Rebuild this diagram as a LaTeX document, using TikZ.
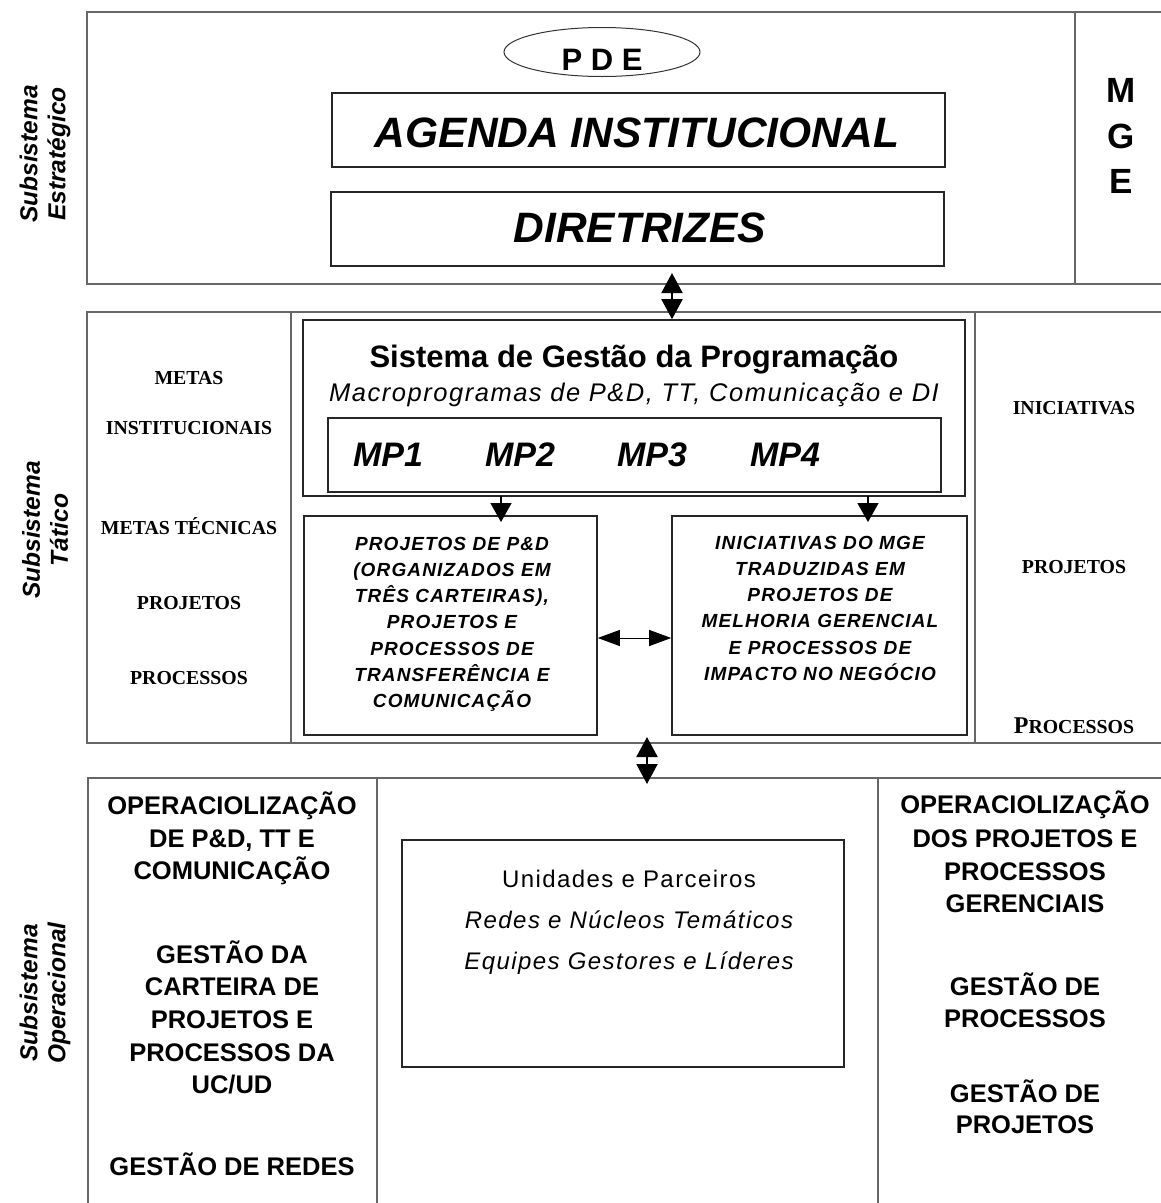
\documentclass[tikz,border=0pt]{standalone}
\usepackage{fontspec}
\setmainfont{Liberation Sans}
\newfontfamily\serifL{Liberation Serif}
\newfontfamily\spaced[LetterSpace=6]{Liberation Sans}
\usetikzlibrary{shapes.geometric,arrows.meta}
\newcommand\myfs[1]{\fontsize{#1}{#1}\selectfont}

\begin{document}
\begin{tikzpicture}[x=1pt,y=-1pt,
  frame/.style={draw=black!60, line width=1.3pt},
  box/.style={draw=black!85, line width=1.6pt, rectangle, inner sep=0pt},
  txt/.style={anchor=base, inner sep=0pt},
  big/.style={txt, font=\myfs{42.5}\bfseries\itshape},
  mge/.style={txt, font=\myfs{35}\bfseries},
  sublbl/.style={rotate=90, align=center, inner sep=0pt, font=\fontsize{24.5}{28}\selectfont\bfseries\itshape},
  ser/.style={txt, font=\serifL\myfs{19.8}\bfseries},
  bi/.style={txt, font=\spaced\myfs{19}\bfseries\itshape},
  op/.style={txt, font=\myfs{25.5}\bfseries},
  un/.style={txt, font=\spaced\myfs{24}},
  mp/.style={txt, font=\myfs{34}\bfseries\itshape},
  vdbl/.style={line width=2pt, {Triangle[length=20pt,width=21pt]}-{Triangle[length=20pt,width=21pt]}},
  vdown/.style={line width=1.5pt, -{Triangle[length=19pt,width=21pt]}},
  hdbl/.style={line width=1pt, {Triangle[length=22pt,width=16pt]}-{Triangle[length=22pt,width=16pt]}}
]
\useasboundingbox (0,0) rectangle (1161,1203);

% ---------- frames ----------
\draw[frame] (1161,12) -- (87,12) -- (87,284) -- (1161,284);
\draw[frame] (1075,12) -- (1075,284);
\draw[frame] (1161,312) -- (87,312) -- (87,743) -- (1161,743);
\draw[frame] (291,312) -- (291,743);
\draw[frame] (975,312) -- (975,743);
\draw[frame] (1161,778) -- (88,778) -- (88,1203);
\draw[frame] (377,778) -- (377,1203);
\draw[frame] (878,778) -- (878,1203);

% ---------- side labels ----------
\node[sublbl] (lblE) at (45,154) {Subsistema\\Estratégico};
\node[sublbl] (lblT) at (45,530) {Subsistema\\Tático};
\node[sublbl] (lblO) at (45,993) {Subsistema\\Operacional};

% ---------- strategic ----------
\node[draw=black!80, line width=1pt, ellipse, minimum width=196pt, minimum height=49pt] (pde) at (602,52) {};
\node[txt, font=\myfs{31}\bfseries] (pdet) at (602,70) {P D E};
\node[box, minimum width=613pt, minimum height=74pt] (agenda) at (638.5,130) {};
\node[big] (agendat) at (637,147) {AGENDA INSTITUCIONAL};
\node[box, minimum width=613pt, minimum height=74pt] (diret) at (637.5,229) {};
\node[big] (direttt) at (640,242) {DIRETRIZES};
\node[mge] (mgeM) at (1121,102) {M};
\node[mge] (mgeG) at (1121,148) {G};
\node[mge] (mgeE) at (1121,193) {E};

% ---------- tactical ----------
\node[ser] (t1) at (189,384) {METAS};
\node[ser] (t2) at (189,434) {INSTITUCIONAIS};
\node[ser] (t3) at (189,534) {METAS TÉCNICAS};
\node[ser] (t4) at (189,609) {PROJETOS};
\node[ser] (t5) at (189,684) {PROCESSOS};
\node[ser] (r1) at (1074,414) {INICIATIVAS};
\node[ser] (r2) at (1074,573) {PROJETOS};
\node[txt, font=\serifL\bfseries] (r3) at (1074,733) {{\myfs{24}P}{\myfs{19.8}ROCESSOS}};

\node[box, minimum width=662pt, minimum height=176pt] (sis) at (634,408) {};
\node[txt, font=\myfs{31}\bfseries] (sist) at (634,367) {Sistema de Gestão da Programação};
\node[txt, font=\spaced\myfs{25.5}\itshape] (sisst) at (634,401) {Macroprogramas de P\&D, TT, Comunicação e DI};
\node[box, minimum width=613pt, minimum height=74pt] (mpbox) at (634.5,455) {};
\node[mp] (mp1) at (388,466) {MP1};
\node[mp] (mp2) at (520,466) {MP2};
\node[mp] (mp3) at (652,466) {MP3};
\node[mp] (mp4) at (785,466) {MP4};

\node[box, minimum width=293pt, minimum height=219pt] (projL) at (450.5,625.5) {};
\node[box, minimum width=295pt, minimum height=219pt] (projR) at (819.5,625.5) {};
\foreach \t/\y [count=\i] in {{PROJETOS DE P\&D}/550, {(ORGANIZADOS EM}/576.3, {TRÊS CARTEIRAS),}/602.6, {PROJETOS E}/628.9, {PROCESSOS DE}/655.2, {TRANSFERÊNCIA E}/681.5, {COMUNICAÇÃO}/707.8}
  \node[bi] (pl\i) at (452,\y) {\t};
\foreach \t/\y [count=\i] in {{INICIATIVAS DO MGE}/549, {TRADUZIDAS EM}/575.3, {PROJETOS DE}/601.6, {MELHORIA GERENCIAL}/627.9, {E PROCESSOS DE}/654.2, {IMPACTO NO NEGÓCIO}/680.5}
  \node[bi] (pr\i) at (820,\y) {\t};

% ---------- operational ----------
\foreach \t/\y [count=\i] in {{OPERACIOLIZAÇÃO}/814, {DE P\&D, TT E}/847, {COMUNICAÇÃO}/879, {GESTÃO DA}/963, {CARTEIRA DE}/995.5, {PROJETOS E}/1028, {PROCESSOS DA}/1061, {UC/UD}/1093, {GESTÃO DE REDES}/1175}
  \node[op] (ol\i) at (232,\y) {\t};
\foreach \t/\y [count=\i] in {{OPERACIOLIZAÇÃO}/813, {DOS PROJETOS E}/847, {PROCESSOS}/880, {GERENCIAIS}/912, {GESTÃO DE}/995, {PROCESSOS}/1027, {GESTÃO DE}/1102, {PROJETOS}/1133}
  \node[op] (or\i) at (1025,\y) {\t};

\node[box, line width=1.4pt, minimum width=442pt, minimum height=227pt] (unid) at (623,953.5) {};
\node[un] (u1) at (629,887) {Unidades e Parceiros};
\node[un, font=\spaced\myfs{24}\itshape] (u2) at (629,928) {Redes e Núcleos Temáticos};
\node[un, font=\spaced\myfs{24}\itshape] (u3) at (629,969) {Equipes Gestores e Líderes};

% ---------- connectors ----------
\coordinate (a1s) at (672,273);
\draw[vdbl] (a1s) -- (a1s |- sis.north);
\coordinate (a2s) at (501,496);
\coordinate (a2e) at (501,522);
\draw[vdown] (a2s) -- (a2e);
\coordinate (a3s) at (868,496);
\coordinate (a3e) at (868,522);
\draw[vdown] (a3s) -- (a3e);
\coordinate (a4y) at (0,638);
\draw[hdbl] (projL.east |- a4y) -- (projR.west |- a4y);
\coordinate (a5s) at (647,737);
\coordinate (a5e) at (647,784);
\draw[vdbl] (a5s) -- (a5e);
\end{tikzpicture}
\end{document}
